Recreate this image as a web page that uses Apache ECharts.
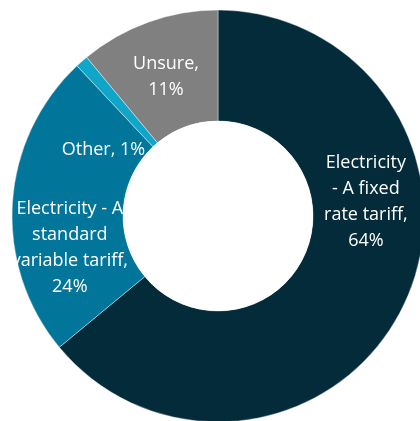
<!DOCTYPE html>
<html>
<head>
<meta charset="utf-8">
<script src="https://cdn.jsdelivr.net/npm/echarts@6/dist/echarts.min.js"></script>
<style>
html,body{margin:0;padding:0;background:#fff;}
#chart{width:420px;height:421px;}
</style>
</head>
<body>
<div id="chart"></div>
<script>
const categories = ['Electricity - A fixed rate tariff', 'Electricity - A standard variable tariff', 'Other', 'Unsure'];
const values = [64, 24, 1, 11];
const labelTexts = [
  'Electricity\n- A fixed\nrate tariff,\n64%',
  'Electricity - A\nstandard\nvariable tariff,\n24%',
  'Other, 1%',
  'Unsure,\n11%'
];
const colors = ['#032b3a', '#02759b', '#10a6c8', '#808080'];
const labelOffsets = [[9, -79], [5, 42], [-13, 49], [0, 5]];

const chart = echarts.init(document.getElementById('chart'), null, {renderer: 'canvas'});
chart.setOption({
  animation: false,
  backgroundColor: '#ffffff',
  series: [
    {
      type: 'pie',
      center: [218, 216],
      radius: [95, 206],
      startAngle: 90,
      clockwise: true,
      avoidLabelOverlap: false,
      emphasis: {disabled: true},
      itemStyle: {borderColor: '#ffffff', borderWidth: 0.4},
      label: {
        show: true,
        position: 'inside',
        color: '#ffffff',
        fontFamily: 'Open Sans',
        fontSize: 18,
        lineHeight: 26,
        align: 'center',
        formatter: p => labelTexts[p.dataIndex]
      },
      labelLine: {show: false},
      data: categories.map((c, i) => ({
        name: c,
        value: values[i],
        itemStyle: {color: colors[i]},
        label: {offset: labelOffsets[i]}
      }))
    },
    {
      type: 'pie',
      z: 5,
      silent: true,
      center: [218, 216],
      radius: [0, 95],
      label: {show: false},
      labelLine: {show: false},
      emphasis: {disabled: true},
      itemStyle: {color: '#ffffff'},
      data: [{value: 1, name: 'hole'}]
    }
  ]
});
</script>
</body>
</html>
